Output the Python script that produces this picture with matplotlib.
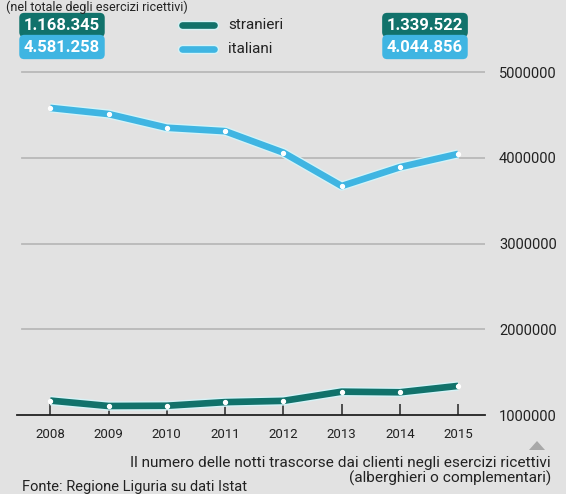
import matplotlib
matplotlib.use("Agg")
import matplotlib.pyplot as plt
import matplotlib.patheffects as pe
from matplotlib.patches import Polygon

years = [2008, 2009, 2010, 2011, 2012, 2013, 2014, 2015]
stranieri = [1168345, 1105000, 1108000, 1150000, 1165000, 1272000, 1265000, 1339522]
italiani = [4581258, 4510000, 4350000, 4310000, 4060000, 3670000, 3890000, 4044856]
yticks = [1000000, 2000000, 3000000, 4000000, 5000000]
series_names = ["stranieri", "italiani"]
first_labels = ["1.168.345", "4.581.258"]
last_labels = ["1.339.522", "4.044.856"]

BG = "#e2e2e2"
TEAL = "#11726b"
BLUE = "#3fb5e2"
FONT = ["Roboto", "DejaVu Sans"]
plt.rcParams["font.family"] = FONT

W, H = 566, 494
fig = plt.figure(figsize=(W / 100, H / 100), dpi=100, facecolor=BG)

def fx(px):
    return px / W

def fy(py):
    return 1 - py / H

ax = fig.add_axes([fx(17), fy(415), fx(485) - fx(17), (415 - 60) / H])
ax.set_facecolor(BG)
ax.set_xlim(2007.43, 2015.46)
ax.set_ylim(1000000, 5140000)
for s in ["top", "left", "right"]:
    ax.spines[s].set_visible(False)
ax.spines["bottom"].set_color("#222222")
ax.spines["bottom"].set_linewidth(1.3)

for v in yticks[1:]:
    ax.axhline(v, xmin=0.01, xmax=1.0, color="#b9b9b9", lw=1.3, zorder=1)

ax.set_xticks(years)
ax.set_xticklabels([str(y) for y in years], fontsize=9.5, color="#222222")
ax.tick_params(axis="x", direction="in", length=8, width=1.2, color="#333333", pad=9)
ax.yaxis.tick_right()
ax.set_yticks(yticks)
ax.set_yticklabels([str(v) for v in yticks], fontsize=10.5, color="#222222")
ax.tick_params(axis="y", length=0, pad=10)

for vals, col in [(italiani, BLUE), (stranieri, TEAL)]:
    ax.plot(years, vals, color=col, lw=4.8, solid_capstyle="butt", zorder=3,
            path_effects=[pe.Stroke(linewidth=6.8, foreground="#d6f3f7"), pe.Normal()])
    ax.plot(years, vals, ls="none", marker="o", ms=2.8, mfc="white", mec="white", zorder=4)

# value boxes
def box(x, y, txt, col):
    fig.text(fx(x), fy(y), txt, ha="center", va="center", fontsize=12, fontweight="bold",
             color="white",
             bbox=dict(boxstyle="round,pad=0.28,rounding_size=0.3", fc=col, ec="none"))

box(62, 25, first_labels[0], TEAL)
box(62, 47, first_labels[1], BLUE)
box(425, 25, last_labels[0], TEAL)
box(425, 47, last_labels[1], BLUE)

# legend
for py, col, name in [(25, TEAL, series_names[0]), (49, BLUE, series_names[1])]:
    fig.add_artist(plt.Line2D([fx(182), fx(214)], [fy(py), fy(py)], color=col, lw=4.8,
                              solid_capstyle="round",
                              path_effects=[pe.Stroke(linewidth=6.8, foreground="#d6f3f7"), pe.Normal()]))
    fig.text(fx(228), fy(py), name, ha="left", va="center", fontsize=11, color="#222222")

# subtitle at top
fig.text(fx(6), fy(7), "(nel totale degli esercizi ricettivi)", ha="left", va="center",
         fontsize=9, color="#222222")

# caption
fig.text(fx(551), fy(463), "Il numero delle notti trascorse dai clienti negli esercizi ricettivi",
         ha="right", va="center", fontsize=11.1, color="#222222")
fig.text(fx(551), fy(478), "(alberghieri o complementari)", ha="right", va="center",
         fontsize=11.1, color="#222222")
fig.text(fx(22), fy(487), "Fonte: Regione Liguria su dati Istat", ha="left", va="center",
         fontsize=10.5, color="#222222")

tri = Polygon([[fx(529), fy(450)], [fx(545), fy(450)], [fx(537), fy(441)]],
              closed=True, transform=fig.transFigure, fc="#a8a8a8", ec="none")
fig.add_artist(tri)

fig.savefig("out.png", dpi=100, facecolor=BG)
